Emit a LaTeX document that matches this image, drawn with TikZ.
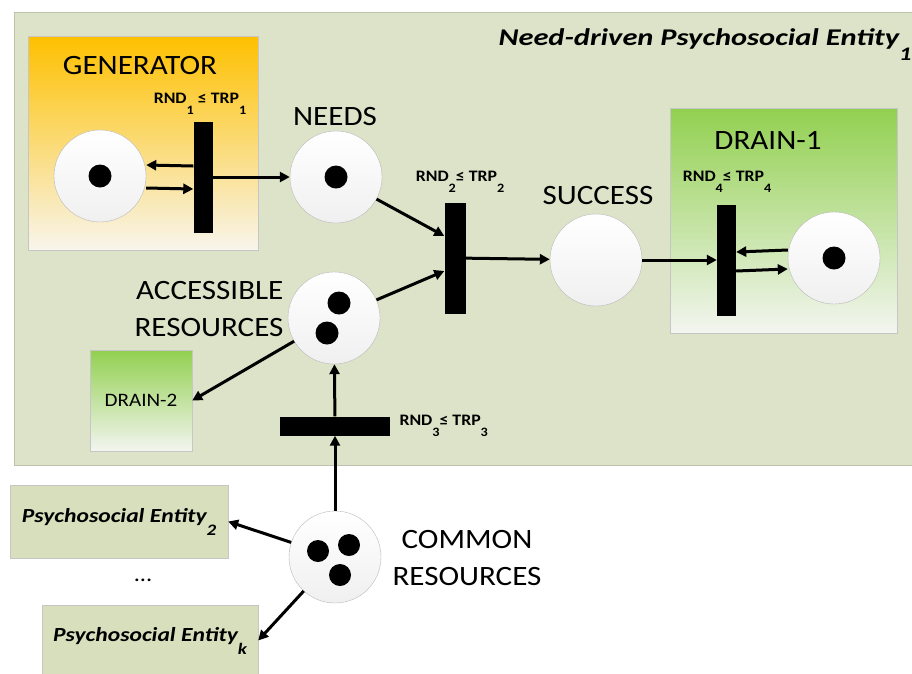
\documentclass[tikz,border=0pt]{standalone}
\usepackage{fontspec}
\setmainfont{Carlito}[FakeStretch=1.11]
\newfontfamily\titlefont{Carlito}[FakeStretch=1.27]
\newfontfamily\pefont{Carlito}[FakeStretch=1.18]
\usetikzlibrary{arrows.meta}
\definecolor{frameFill}{RGB}{221,227,200}
\definecolor{frameLine}{RGB}{188,194,172}
\definecolor{genTop}{RGB}{254,192,0}
\definecolor{genBot}{RGB}{248,245,236}
\definecolor{drainTop}{RGB}{146,208,80}
\definecolor{drainBot}{RGB}{243,245,240}
\definecolor{peFill}{RGB}{216,223,188}
\makeatletter
\newcommand{\lowsub}[1]{\raisebox{-0.65em}{\@tempdima=\f@size pt\@tempdima=0.8\@tempdima
  \fontsize{\strip@pt\@tempdima}{\strip@pt\@tempdima}\selectfont #1}}
\makeatother
\newcommand{\setfs}[2]{\fontsize{#1}{#2}\selectfont}

\begin{document}
\begin{tikzpicture}[x=1pt,y=-1pt,
  place/.style={circle,draw=gray!55,thin,top color=white,bottom color=gray!12,minimum size=92pt,inner sep=0pt},
  token/.style={circle,fill=black,minimum size=23pt,inner sep=0pt},
  vtrans/.style={rectangle,fill=black,inner sep=0pt,minimum width=19pt,minimum height=111pt},
  htrans/.style={rectangle,fill=black,inner sep=0pt,minimum width=110pt,minimum height=19pt},
  box/.style={rectangle,draw=gray!45,inner sep=0pt},
  arc/.style={line width=3pt,-{Triangle[length=10pt,width=10pt]}},
  big/.style={font=\setfs{28}{37}},
  rnd/.style={font=\bfseries\setfs{16}{18}},
  entity/.style={box,fill=peFill,font=\pefont\bfseries\itshape\setfs{20}{22}}]
  \useasboundingbox[fill=white] (0,0) rectangle (912,673);
  % entity frame
  \node[box,draw=frameLine,fill=frameFill,anchor=north west,minimum width=904pt,minimum height=453pt] (pse) at (14,12) {};
  \node[anchor=base east,font=\titlefont\bfseries\itshape\setfs{24}{28}] (title) at (915,45) {Need-driven Psychosocial Entity\lowsub{1}};
  % generator
  \node[box,top color=genTop,bottom color=genBot,minimum width=230pt,minimum height=214pt] (genbox) at (143,143) {};
  \node[big] (gentext) at (140,66) {GENERATOR};
  \node[place] (gen) at (100,176) {};
  \node[token] at (gen) {};
  \node[vtrans] (t1) at (203,177) {};
  \node[rnd] (lbl1) at (200,104) {RND\lowsub{1}~≤ TRP\lowsub{1}};
  % needs, success
  \node[big] (needstext) at (335,117) {NEEDS};
  \node[place] (needs) at (336,177) {};
  \node[token] at (needs) {};
  \node[vtrans,minimum width=21pt] (t2) at (455,258) {};
  \node[rnd] (lbl2) at (460,182) {RND\lowsub{2}≤ TRP\lowsub{2}};
  \node[big] (successtext) at (598,196) {SUCCESS};
  \node[place] (success) at (596,260) {};
  % drain-1
  \node[box,top color=drainTop,bottom color=drainBot,minimum width=227pt,minimum height=225pt] (drain1box) at (783.5,220.5) {};
  \node[big] (draintext) at (768,140) {DRAIN-1};
  \node[vtrans] (t4) at (726.5,260) {};
  \node[rnd] (lbl4) at (727,182) {RND\lowsub{4}≤ TRP\lowsub{4}};
  \node[place] (drain) at (834,258) {};
  \node[token] at (drain) {};
  % accessible resources
  \node[big,align=right,anchor=east] (artext) at (287,309) {ACCESSIBLE\\RESOURCES};
  \node[place] (ar) at (334,318) {};
  \node[token] at (339,303) {};
  \node[token] at (327,333) {};
  \node[box,top color=drainTop,bottom color=drainBot,minimum width=102pt,minimum height=101pt,font=\setfs{19}{22}] (drain2) at (141,400.5) {DRAIN-2};
  \node[htrans] (t3) at (335,426) {};
  \node[rnd,anchor=west] (lbl3) at (396,426) {RND\lowsub{3}≤ TRP\lowsub{3}};
  % common resources
  \node[place] (cr) at (335,557) {};
  \node[token,minimum size=22pt] at (318,551) {};
  \node[token,minimum size=22pt] at (349,545) {};
  \node[token,minimum size=22pt] at (340,575) {};
  \node[big,align=center] (crtext) at (467,558) {COMMON\\RESOURCES};
  \node[entity,minimum width=218pt,minimum height=73pt] (pe2) at (119,521.5) {Psychosocial Entity\lowsub{2}};
  \node[font=\setfs{22}{24}] (dots) at (143,580) {...};
  \node[entity,minimum width=216pt,minimum height=71pt] (pek) at (150,640.5) {Psychosocial Entity\lowsub{k}};
  % arcs
  \draw[arc] ([yshift=11]t1.west) -- ([yshift=11]gen.east);
  \draw[arc] ([yshift=-12]gen.east) -- ([yshift=-12]t1.west);
  \draw[arc] (t1) -- (needs);
  \draw[arc] (needs) -- ([yshift=22]t2.west);
  \draw[arc] (ar) -- ([yshift=-13]t2.west);
  \draw[arc] (t2) -- (success);
  \draw[arc] (success) -- (t4);
  \draw[arc] ([yshift=8]drain.west) -- ([yshift=8]t4.east);
  \draw[arc] ([yshift=-11]t4.east) -- ([yshift=-11]drain.west);
  \draw[arc] (ar) -- (drain2.east);
  \draw[arc] (t3) -- (ar);
  \draw[arc] (cr) -- (t3);
  \draw[arc] (cr) -- (pe2.east);
  \draw[arc] (cr) -- (pek.east);
\end{tikzpicture}
\end{document}
